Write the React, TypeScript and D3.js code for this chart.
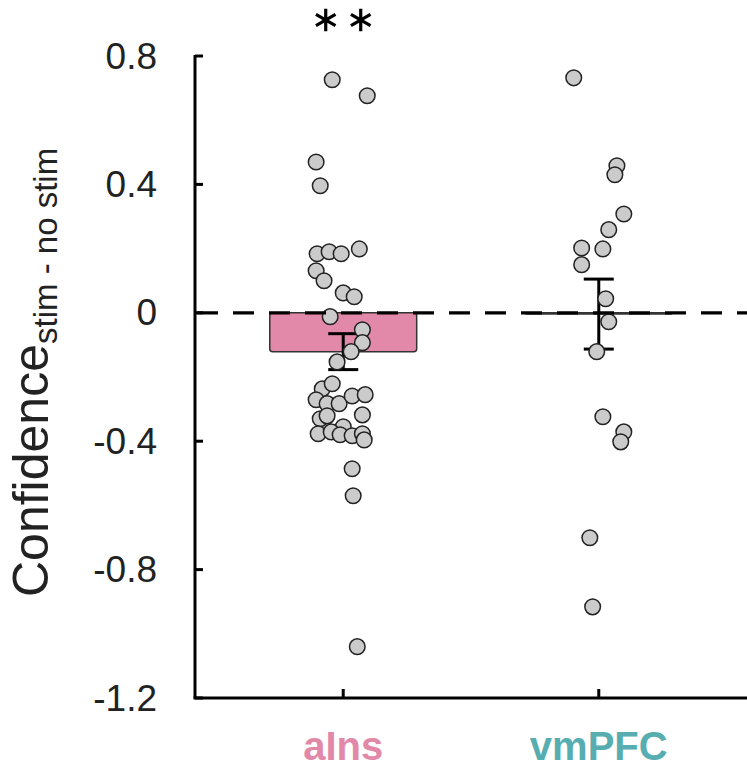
import React from "react";
import * as d3 from "d3";

const categories = ["aIns", "vmPFC"];
const categoryColors = ["#E289A9", "#57ADB0"];
const barMeans = [-0.121, -0.004];
const barSems = [0.056, 0.109];

const aInsValues = [
  0.726, 0.676, 0.47, 0.396, 0.184, 0.19, 0.184, 0.199, 0.131, 0.1, 0.062, 0.05,
  -0.012, -0.053, -0.093, -0.121, -0.153, -0.237, -0.221, -0.271, -0.283, -0.283,
  -0.259, -0.255, -0.33, -0.321, -0.355, -0.377, -0.371, -0.38, -0.383, -0.318,
  -0.377, -0.396, -0.486, -0.57, -1.04,
];
const aInsJitter = [
  -0.043, 0.094, -0.106, -0.09, -0.102, -0.055, -0.008, 0.063, -0.106, -0.075, 0.0, 0.043,
  -0.051, 0.075, 0.075, 0.031, -0.024, -0.082, -0.043, -0.106, -0.063, -0.016,
  0.035, 0.086, -0.09, -0.063, 0.0, -0.098, -0.047, -0.012, 0.035, 0.075,
  0.075, 0.082, 0.035, 0.039, 0.055,
];
const vmPFCValues = [
  0.732, 0.458, 0.43, 0.308, 0.259, 0.202, 0.199, 0.15, 0.044, -0.028, -0.121,
  -0.324, -0.371, -0.402, -0.701, -0.916,
];
const vmPFCJitter = [
  -0.098, 0.071, 0.063, 0.098, 0.039, -0.067, 0.016, -0.067, 0.027, 0.039, -0.008,
  0.016, 0.098, 0.086, -0.035, -0.024,
];
const yTicks = [-1.2, -0.8, -0.4, 0, 0.4, 0.8];
const yTickLabels = ["-1.2", "-0.8", "-0.4", "0", "0.4", "0.8"];
const significance = ["**", ""];

const W = 747;
const H = 771;
const FONT = "'Liberation Sans', Arial, sans-serif";

export default function App() {
  const x = d3.scaleLinear().domain([0.42, 2.58]).range([195, 747]);
  const y = d3.scaleLinear().domain([-1.2, 0.8]).range([698, 56]);
  const barW = 0.575;
  const pxPerUnit = x(1) - x(0);
  const capHalf = 15;
  const groups = [
    { values: aInsValues, jitter: aInsJitter },
    { values: vmPFCValues, jitter: vmPFCJitter },
  ];
  const asterisk = d3.symbol().type(d3.symbolAsterisk).size(360)();
  const x0 = x(0.42);
  const x1 = 747;

  return (
    <svg
      width={W}
      height={H}
      style={{ position: "absolute", left: 0, top: 0, background: "#fff" }}
      fontFamily={FONT}
    >
      {/* bars */}
      {categories.map((c, i) => {
        const m = barMeans[i];
        const top = Math.min(y(m), y(0));
        const h = Math.max(Math.abs(y(m) - y(0)), 1);
        return (
          <rect
            key={c}
            x={x(i + 1) - (barW / 2) * pxPerUnit}
            y={top}
            width={barW * pxPerUnit}
            height={h}
            rx={3}
            fill={categoryColors[i]}
            stroke="#333"
            strokeWidth={1.5}
          />
        );
      })}
      {/* error bars */}
      {categories.map((c, i) => {
        const cx = x(i + 1);
        const hi = y(barMeans[i] + barSems[i]);
        const lo = y(barMeans[i] - barSems[i]);
        return (
          <g key={c} stroke="#000" strokeWidth={3}>
            <line x1={cx} x2={cx} y1={hi} y2={lo} />
            <line x1={cx - capHalf} x2={cx + capHalf} y1={hi} y2={hi} />
            <line x1={cx - capHalf} x2={cx + capHalf} y1={lo} y2={lo} />
          </g>
        );
      })}
      {/* points */}
      {groups.map((g, i) =>
        g.values.map((v, j) => (
          <circle
            key={`${i}-${j}`}
            cx={x(i + 1 + g.jitter[j])}
            cy={y(v)}
            r={7.8}
            fill="#CBCBCB"
            stroke="#222"
            strokeWidth={1.5}
          />
        ))
      )}
      {/* zero dashed line */}
      <line
        x1={x0 + 2}
        x2={x1}
        y1={y(0)}
        y2={y(0)}
        stroke="#000"
        strokeWidth={3.2}
        strokeDasharray="21 15"
      />
      {/* axes */}
      <line x1={x0} x2={x0} y1={y(0.8) - 1} y2={y(-1.2)} stroke="#000" strokeWidth={3} />
      <line x1={x0 - 1.5} x2={x1} y1={y(-1.2)} y2={y(-1.2)} stroke="#000" strokeWidth={3} />
      {yTicks.map((t, i) => (
        <g key={t}>
          <line x1={x0} x2={x0 + 8} y1={y(t)} y2={y(t)} stroke="#000" strokeWidth={3} />
          <text
            x={157}
            y={y(t)}
            textAnchor="end"
            dominantBaseline="central"
            fontSize={37}
            fill="#222"
          >
            {yTickLabels[i]}
          </text>
        </g>
      ))}
      {categories.map((c, i) => (
        <g key={c}>
          <line
            x1={x(i + 1)}
            x2={x(i + 1)}
            y1={y(-1.2)}
            y2={y(-1.2) - 9}
            stroke="#000"
            strokeWidth={3}
          />
          <text
            x={x(i + 1)}
            y={760}
            textAnchor="middle"
            fontSize={40}
            fontWeight="bold"
            fill={categoryColors[i]}
          >
            {c}
          </text>
        </g>
      ))}
      {/* significance asterisks */}
      {categories.map((c, i) =>
        significance[i].split("").map((s, k, arr) => (
          <path
            key={`${c}-${k}`}
            d={asterisk || ""}
            transform={`translate(${x(i + 1) + (k - (arr.length - 1) / 2) * 35},20)`}
            stroke="#000"
            strokeWidth={3.2}
            fill="none"
          />
        ))
      )}
      {/* y label */}
      <text
        transform="translate(48,597) rotate(-90)"
        textAnchor="start"
        fontSize={50}
        fill="#222"
      >
        Confidence
        <tspan fontSize={33} dy={9}>
          stim - no stim
        </tspan>
      </text>
    </svg>
  );
}
